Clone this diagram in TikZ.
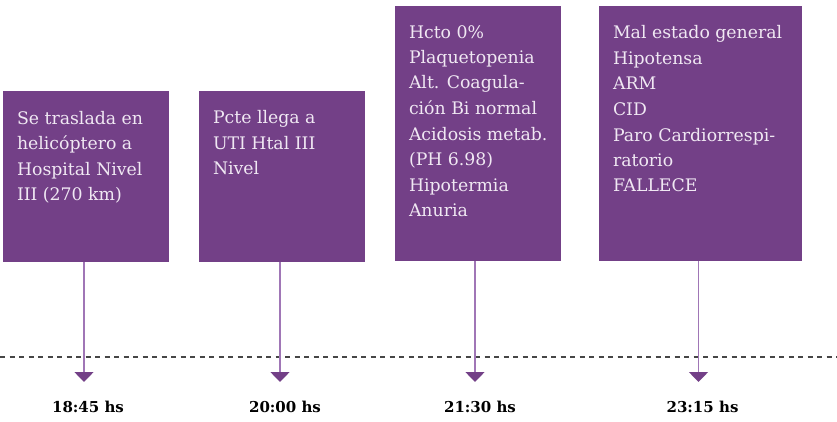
\documentclass[tikz,border=0pt]{standalone}
\usepackage{fontspec}
\setmainfont{DejaVu Serif}
\usetikzlibrary{arrows.meta}

\definecolor{evpurple}{RGB}{115,64,135}
\definecolor{evline}{RGB}{160,118,182}
\definecolor{evtext}{RGB}{240,232,243}
\definecolor{evdash}{RGB}{70,70,70}

\newcommand\evfont{\fontsize{17.3pt}{25.5pt}\selectfont}
\newcommand\hsfont{\fontsize{15pt}{17pt}\selectfont\bfseries}

\tikzset{
  evbox/.style={fill=evpurple, draw=none, inner sep=0pt},
  evlabel/.style={anchor=north west, inner sep=0pt, align=left, text=evtext, font=\evfont},
  hslabel/.style={anchor=base, inner sep=0pt, font=\hsfont, text=black},
  dashline/.style={evdash, line width=1.2pt, dash pattern=on 5pt off 4.5pt},
  tick/.style={evline, line width=1.6pt, -{Triangle[width=19pt,length=10pt,color=evpurple]}}
}

\begin{document}
\begin{tikzpicture}[x=1pt,y=-1pt]

\useasboundingbox (0,0) rectangle (837,422);

\coordinate (DL) at (0,357);
\coordinate (DR) at (837,357);
\coordinate (TIP) at (0,382);
\coordinate (HS) at (0,412);

\node[evbox, minimum width=166pt, minimum height=171pt] (B1) at (86,176.5) {};
\node[evbox, minimum width=166pt, minimum height=171pt] (B2) at (282,176.5) {};
\node[evbox, minimum width=166pt, minimum height=255pt] (B3) at (478,133.5) {};
\node[evbox, minimum width=203pt, minimum height=255pt] (B4) at (700.5,133.5) {};

\node[evlabel] (L1) at ([shift={(14,17)}]B1.north west)
  {\rule{0pt}{16pt}Se traslada en\\helicóptero a\\Hospital Nivel\\III (270 km)};
\node[evlabel] (L2) at ([shift={(14,17)}]B2.north west)
  {\rule{0pt}{16pt}Pcte llega a\\UTI Htal III\\Nivel};
\node[evlabel] (L3) at ([shift={(14,16)}]B3.north west)
  {\rule{0pt}{16pt}Hcto 0\%\\Plaquetopenia\\Alt. Coagula-\\ción Bi normal\\Acidosis metab.\\(PH 6.98)\\Hipotermia\\Anuria};
\node[evlabel] (L4) at ([shift={(14,17)}]B4.north west)
  {\rule{0pt}{16pt}Mal estado general\\Hipotensa\\ARM\\CID\\Paro Cardiorrespi-\\ratorio\\FALLECE};

\draw[dashline] (DL) -- (DR);

\draw[tick] ([xshift=-2pt]B1.south) -- ([xshift=-2pt]B1.south |- TIP);
\draw[tick] ([xshift=-2pt]B2.south) -- ([xshift=-2pt]B2.south |- TIP);
\draw[tick] ([xshift=-3pt]B3.south) -- ([xshift=-3pt]B3.south |- TIP);
\draw[tick] ([xshift=-2pt]B4.south) -- ([xshift=-2pt]B4.south |- TIP);

\node[hslabel] (T1) at ([xshift=2pt]B1.south |- HS) {18:45 hs};
\node[hslabel] (T2) at ([xshift=3pt]B2.south |- HS) {20:00 hs};
\node[hslabel] (T3) at ([xshift=2pt]B3.south |- HS) {21:30 hs};
\node[hslabel] (T4) at ([xshift=2pt]B4.south |- HS) {23:15 hs};

\end{tikzpicture}
\end{document}
